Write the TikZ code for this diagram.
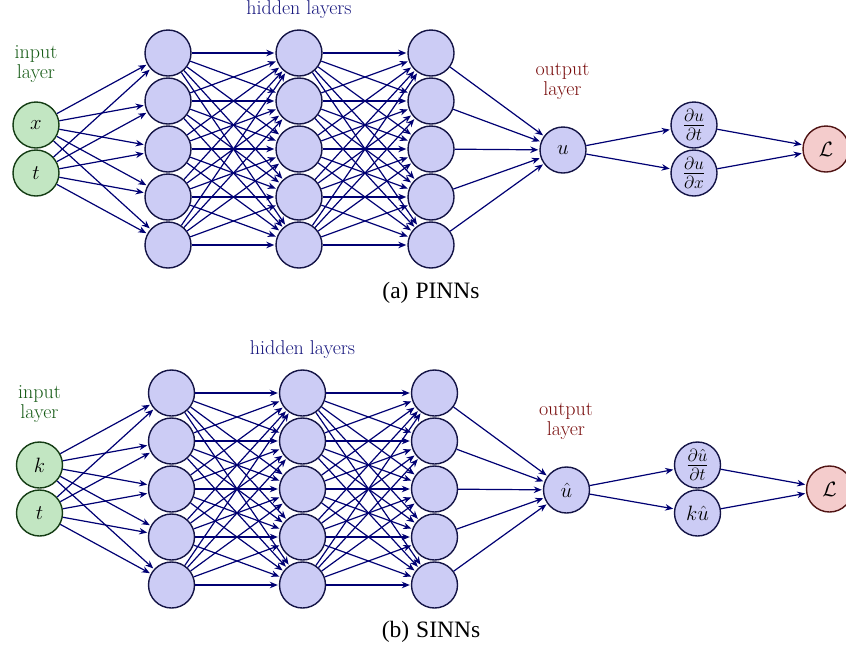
\documentclass[tikz,border=0pt]{standalone}
\usepackage{fontspec}
\newfontfamily\capfont{Liberation Serif}
\usetikzlibrary{arrows.meta}
\definecolor{hidfill}{RGB}{204,204,245}
\definecolor{hidedge}{RGB}{20,20,70}
\definecolor{infill}{RGB}{194,230,194}
\definecolor{inedge}{RGB}{20,60,20}
\definecolor{lossfill}{RGB}{244,204,204}
\definecolor{lossedge}{RGB}{80,20,20}
\definecolor{arrowcol}{RGB}{0,0,115}
\definecolor{inlbl}{RGB}{20,90,20}
\definecolor{hidlbl}{RGB}{22,22,125}
\definecolor{outlbl}{RGB}{120,12,12}
\newcommand\bigfrac[2]{\scalebox{1.22}{$\frac{#1}{#2}$}}
\newcommand\netpanel[5]{%
  \node[inneuron] (#1in1) at (36,125) {$#2$};
  \node[inneuron] (#1in2) at (36,173) {$t$};
  \foreach \l/\xx in {1/168,2/299,3/431}{
    \foreach \n in {1,...,5}{
      \node[neuron] (#1h\l-\n) at (\xx,{5+48*\n}) {};
    }}
  \node[neuron] (#1out) at (563,150) {$#3$};
  \node[neuron] (#1d1) at (694,125) {#4};
  \node[neuron] (#1d2) at (694,173) {#5};
  \node[lossneuron] (#1loss) at (826,149) {$\mathcal{L}$};
  \node[lbl,text=inlbl] (#1inlbl) at (36,64) {input\\layer};
  \node[lbl,text=hidlbl,anchor=base] (#1hidlbl) at (299,14) {hidden layers};
  \node[lbl,text=outlbl] (#1outlbl) at (562.5,81.5) {output\\layer};
  \foreach \i in {1,2}{
    \foreach \n in {1,...,5}{
      \draw[conn] (#1in\i) -- (#1h1-\n);
    }}
  \foreach \a in {1,...,5}{
    \foreach \b in {1,...,5}{
      \draw[conn] (#1h1-\a) -- (#1h2-\b);
      \draw[conn] (#1h2-\a) -- (#1h3-\b);
    }}
  \foreach \a in {1,...,5}{
    \draw[conn] (#1h3-\a) -- (#1out);
  }
  \draw[conn] (#1out) -- (#1d1);
  \draw[conn] (#1out) -- (#1d2);
  \draw[conn] (#1d1) -- (#1loss);
  \draw[conn] (#1d2) -- (#1loss);
}
\begin{document}
\begin{tikzpicture}[x=1pt,y=-1pt,
  every node/.style={font=\fontsize{20.74}{24}\selectfont},
  neuron/.style={circle,draw=hidedge,fill=hidfill,line width=1.4pt,minimum size=46pt,inner sep=0pt},
  inneuron/.style={neuron,draw=inedge,fill=infill},
  lossneuron/.style={neuron,draw=lossedge,fill=lossfill},
  conn/.style={draw=arrowcol,line width=1.2pt,-{Stealth[length=8pt,width=6.5pt]},shorten >=1pt},
  lbl/.style={align=center,inner sep=0pt,font=\fontsize{20}{19.5}\selectfont},
  captext/.style={anchor=base,inner sep=0pt,font=\capfont\fontsize{23.5}{28}\selectfont}]
\useasboundingbox (0,0) rectangle (846,649);
\begin{scope}
  \netpanel{a}{x}{u}{\bigfrac{\partial u}{\partial t}}{\bigfrac{\partial u}{\partial x}}
\end{scope}
\begin{scope}[shift={(3.5,340)}]
  \netpanel{b}{k}{\hat{u}}{\bigfrac{\partial \hat{u}}{\partial t}}{$k\hat{u}$}
\end{scope}
\node[captext] (capa) at (431,298) {(a)\hspace{0.3em}PINNs};
\node[captext] (capb) at (431,637) {(b)\hspace{0.3em}SINNs};
\end{tikzpicture}
\end{document}
